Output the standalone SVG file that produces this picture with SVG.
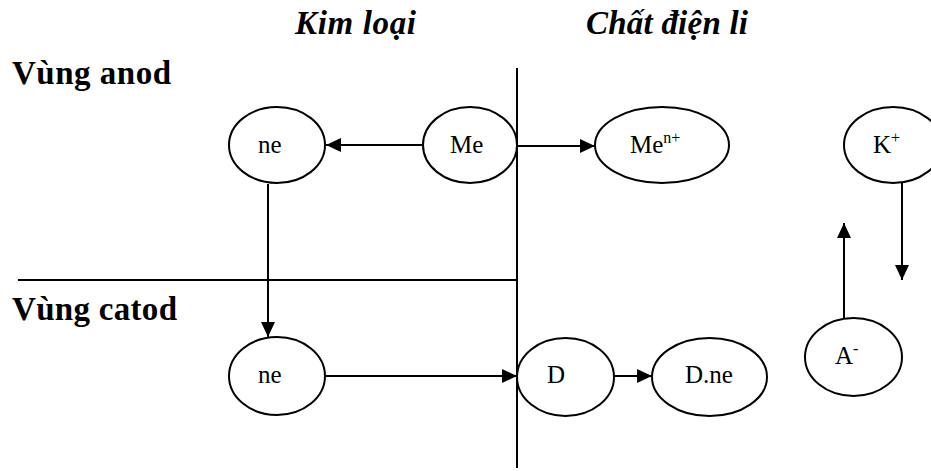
<svg xmlns="http://www.w3.org/2000/svg" width="931" height="471" viewBox="0 0 931 471">
<style>
.node{fill:#fff;stroke:#000;stroke-width:2}
.lbl{font-family:"Liberation Serif","Times New Roman",serif;font-size:25px;fill:#000}
.sup{font-size:16px}
.hdr{font-family:"Liberation Serif","Times New Roman",serif;font-size:33px;font-weight:bold;fill:#000}
.it{font-style:italic}
.ln{stroke:#000;stroke-width:2;fill:none}
.arr{stroke:#000;stroke-width:2;fill:none;marker-end:url(#ah)}
</style>
<defs>
<marker id="ah" viewBox="0 0 15 14" refX="15" refY="7" markerWidth="15" markerHeight="14" markerUnits="userSpaceOnUse" orient="auto">
<path d="M0,0 L15,7 L0,14 Z" fill="#000"/>
</marker>
</defs>
<rect width="931" height="471" fill="#fff"/>
<g id="headers">
<text class="hdr it" x="295" y="34" textLength="121" lengthAdjust="spacing">Kim loại</text>
<text class="hdr it" x="586" y="34" textLength="162" lengthAdjust="spacing">Chất điện li</text>
<text class="hdr" x="12" y="84" textLength="159" lengthAdjust="spacing">Vùng anod</text>
<text class="hdr" x="12" y="320" textLength="165" lengthAdjust="spacing">Vùng catod</text>
</g>
<g id="dividers">
<line class="ln" x1="517" y1="68" x2="517" y2="468"/>
<line class="ln" x1="18" y1="280" x2="517" y2="280"/>
</g>
<g id="connectors">
<line class="arr" x1="422" y1="145" x2="326" y2="145"/>
<line class="arr" x1="517" y1="146" x2="595" y2="146"/>
<line class="arr" x1="268" y1="184" x2="268" y2="337"/>
<line class="arr" x1="326" y1="376" x2="517" y2="376"/>
<line class="arr" x1="614" y1="376" x2="652" y2="376"/>
<line class="arr" x1="902" y1="182" x2="902" y2="280"/>
<line class="arr" x1="844" y1="319" x2="844" y2="223"/>
</g>
<g id="ne-anod">
<ellipse class="node" cx="277" cy="145" rx="48" ry="38"/>
<text class="lbl" x="258" y="153">ne</text>
</g>
<g id="me">
<ellipse class="node" cx="470" cy="145" rx="47" ry="38"/>
<text class="lbl" x="450" y="153">Me</text>
</g>
<g id="me-ion">
<ellipse class="node" cx="662" cy="145" rx="67" ry="38"/>
<text class="lbl" x="630" y="153">Me<tspan class="sup" dy="-10">n+</tspan></text>
</g>
<g id="k-ion">
<ellipse class="node" cx="893" cy="145" rx="49" ry="38"/>
<text class="lbl" x="873" y="153">K<tspan class="sup" dy="-10">+</tspan></text>
</g>
<g id="ne-catod">
<ellipse class="node" cx="277" cy="376" rx="48" ry="39"/>
<text class="lbl" x="258" y="383">ne</text>
</g>
<g id="d">
<ellipse class="node" cx="565.5" cy="377" rx="48.5" ry="39"/>
<text class="lbl" x="547" y="383">D</text>
</g>
<g id="d-ne">
<ellipse class="node" cx="709.5" cy="377" rx="57.5" ry="39"/>
<text class="lbl" x="685" y="383">D.ne</text>
</g>
<g id="a-ion">
<ellipse class="node" cx="853.5" cy="357" rx="48.5" ry="39"/>
<text class="lbl" x="835" y="364">A<tspan class="sup" dy="-10">-</tspan></text>
</g>
</svg>
